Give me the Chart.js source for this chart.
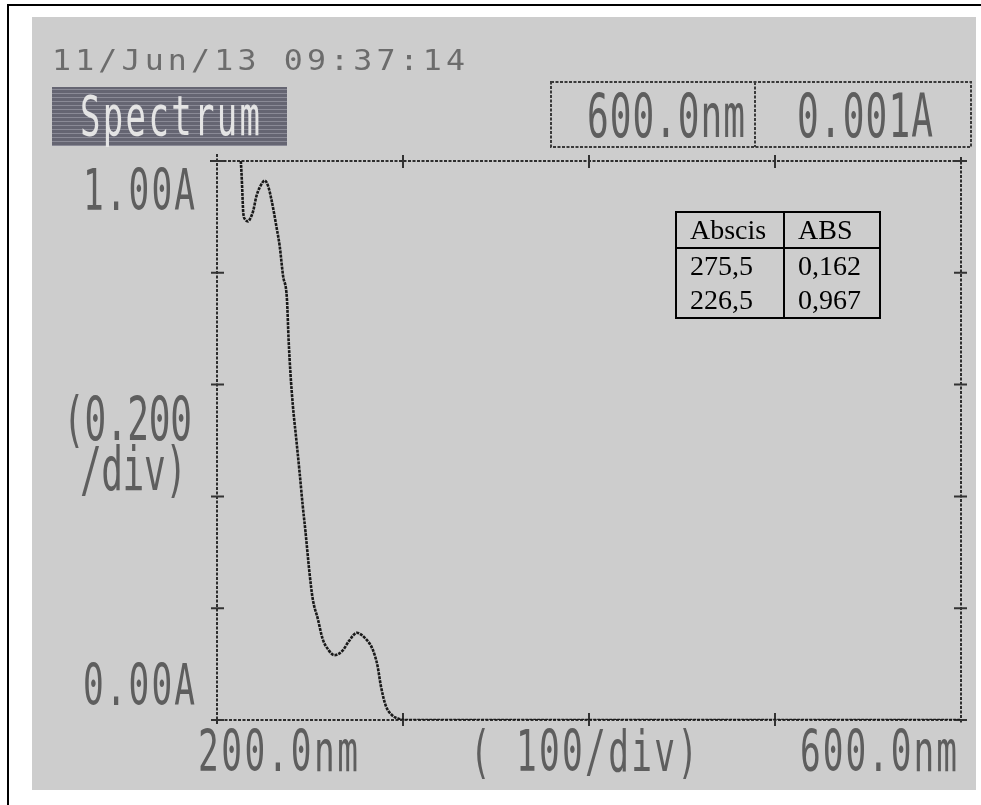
<!DOCTYPE html>
<html>
<head>
<meta charset="utf-8">
<script src="https://cdn.jsdelivr.net/npm/chart.js@4.4.1/dist/chart.umd.min.js"></script>
<style>
  html, body { margin: 0; padding: 0; background: #ffffff; }
  #wrap { position: relative; width: 981px; height: 805px; overflow: hidden; }
  #c { position: absolute; left: 0; top: 0; }
  #tbl {
    position: absolute; left: 675px; top: 211px;
    border-collapse: collapse;
    font-family: "Liberation Serif", "Times New Roman", serif;
    font-size: 28px; color: #000;
  }
  #tbl td {
    border: 2px solid #000; padding: 0 0 0 13px; vertical-align: top;
    line-height: 34px; box-sizing: border-box;
  }
  #tbl td.c1 { width: 108px; }
  #tbl td.c2 { width: 96px; }
  #tbl tr.h td { height: 35px; }
  #tbl tr.b td { height: 69px; }
</style>
</head>
<body>
<div id="wrap">
  <canvas id="c" width="981" height="805"></canvas>
  <table id="tbl">
    <tr class="h"><td class="c1">Abscis</td><td class="c2">ABS</td></tr>
    <tr class="b"><td class="c1">275,5<br>226,5</td><td class="c2">0,162<br>0,967</td></tr>
  </table>
</div>
<script>
// ---- data ----
const wavelengths = [212.8, 213.2, 213.7, 214.1, 215.2, 216.7, 218.0, 219.4, 221.2, 223.0,
  225.7, 227.5, 229.2, 232.2, 233.7, 235.5, 237.6, 238.5, 239.5, 240.8,
  242.6, 244.4, 246.1, 247.6, 249.7, 251.5, 254.2, 256.8, 260.0, 263.1,
  267.5, 271.1, 275.2, 280.0, 283.6, 286.3, 288.1, 290.7, 294.3, 297.9,
  301.0, 350, 400, 450, 500, 550, 600];
const absorbance = [1.000, 0.977, 0.938, 0.908, 0.895, 0.892, 0.898, 0.910, 0.937, 0.953,
  0.965, 0.955, 0.932, 0.878, 0.848, 0.795, 0.753, 0.680, 0.620, 0.562,
  0.503, 0.443, 0.383, 0.336, 0.264, 0.216, 0.181, 0.145, 0.125, 0.116,
  0.124, 0.142, 0.156, 0.145, 0.127, 0.097, 0.061, 0.026, 0.008, 0.002,
  0.000, 0.000, 0.000, 0.000, 0.000, 0.000, 0.000];
const xTicks = [200, 300, 400, 500, 600];
const yTicks = [0, 0.2, 0.4, 0.6, 0.8, 1.0];
const dateText = "11/Jun/13 09:37:14";
const titleText = "Spectrum";
const yTopLabel = "1.00A";
const yBottomLabel = "0.00A";
const yDivLabel = ["(0.200", "/div)"];
const xLeftLabel = "200.0nm";
const xDivLabel = "( 100/div)";
const xRightLabel = "600.0nm";
const cursorWl = "600.0nm";
const cursorAbs = "0.001A";

// dot-matrix style text helper
function dmText(ctx, text, x, base, capH, width, hs, color) {
  const size = capH / 0.73;
  ctx.save();
  ctx.font = size + 'px "DejaVu Sans Mono", monospace';
  ctx.fillStyle = color;
  ctx.textBaseline = 'alphabetic';
  ctx.textAlign = 'left';
  if ('letterSpacing' in ctx) ctx.letterSpacing = '0px';
  const nat = ctx.measureText(text).width * hs;
  let scale = hs;
  if ('letterSpacing' in ctx && text.length > 1) {
    const ls = (width - nat) / (text.length - 1) / hs;
    ctx.letterSpacing = ls + 'px';
  } else {
    scale = width / (nat / hs);
  }
  ctx.translate(x, base);
  ctx.scale(scale, 1);
  ctx.fillText(text, 0, 0);
  ctx.restore();
}

const framePlugin = {
  id: 'frame',
  beforeDraw(chart) {
    const ctx = chart.ctx;
    ctx.save();
    ctx.fillStyle = '#ffffff';
    ctx.fillRect(0, 0, 981, 805);
    // outer scan border
    ctx.strokeStyle = '#000';
    ctx.lineWidth = 2;
    ctx.beginPath();
    ctx.moveTo(8, 805); ctx.lineTo(8, 5); ctx.lineTo(981, 5);
    ctx.stroke();
    // grey paper
    ctx.fillStyle = '#cdcdcd';
    ctx.fillRect(32, 17, 944, 773);
    // Spectrum block
    ctx.fillStyle = '#656572';
    ctx.fillRect(52, 87, 235, 59);
    ctx.strokeStyle = 'rgba(175,175,185,0.5)';
    ctx.lineWidth = 1;
    for (let y = 89; y < 146; y += 4) {
      ctx.beginPath(); ctx.moveTo(52, y + 0.5); ctx.lineTo(287, y + 0.5); ctx.stroke();
    }
    // cursor box
    ctx.strokeStyle = '#3a3a3a';
    ctx.lineWidth = 2;
    ctx.setLineDash([3, 1.5]);
    ctx.strokeRect(551, 82, 420, 65);
    ctx.beginPath(); ctx.moveTo(755, 82); ctx.lineTo(755, 147); ctx.stroke();
    ctx.setLineDash([]);
    ctx.restore();
  },
  beforeDatasetsDraw(chart) {
    const ctx = chart.ctx;
    const xs = chart.scales.x, ys = chart.scales.y;
    const L = xs.getPixelForValue(200), R = xs.getPixelForValue(600);
    const T = ys.getPixelForValue(1), B = ys.getPixelForValue(0);
    ctx.save();
    ctx.strokeStyle = '#2e2e2e';
    ctx.lineWidth = 2;
    ctx.setLineDash([3, 1.5]);
    ctx.beginPath();
    ctx.moveTo(L, T - 7); ctx.lineTo(L, B + 4);
    ctx.moveTo(L - 7, T); ctx.lineTo(R + 4, T);
    ctx.moveTo(R, T - 4); ctx.lineTo(R, B + 4);
    ctx.moveTo(L - 6, B); ctx.lineTo(R + 6, B);
    ctx.stroke();
    ctx.setLineDash([]);
    ctx.lineWidth = 2;
    ctx.strokeStyle = '#333';
    ctx.beginPath();
    yTicks.forEach(v => {
      const y = ys.getPixelForValue(v);
      ctx.moveTo(L - 6, y); ctx.lineTo(L + 7, y);
      ctx.moveTo(R - 7, y); ctx.lineTo(R + 6, y);
    });
    xTicks.slice(1, -1).forEach(v => {
      const x = xs.getPixelForValue(v);
      ctx.moveTo(x, T - 6); ctx.lineTo(x, T + 7);
      ctx.moveTo(x, B - 7); ctx.lineTo(x, B + 6);
    });
    ctx.stroke();
    ctx.restore();
  },
  afterDraw(chart) {
    const ctx = chart.ctx;
    dmText(ctx, dateText, 52, 70, 21, 413, 1.1, '#6c6c6c');
    dmText(ctx, titleText, 80, 135, 40, 180, 0.62, '#e4e4e4');
    const c = '#5e5e5e';
    dmText(ctx, yTopLabel, 83, 210, 42, 112, 0.6, c);
    dmText(ctx, yDivLabel[0], 63, 440, 44, 129, 0.6, c);
    dmText(ctx, yDivLabel[1], 80, 490, 44, 107, 0.6, c);
    dmText(ctx, yBottomLabel, 83, 705, 42, 112, 0.6, c);
    dmText(ctx, xLeftLabel, 198, 771, 42, 160, 0.6, c);
    dmText(ctx, xDivLabel, 470, 771, 42, 228, 0.6, c);
    dmText(ctx, xRightLabel, 800, 771, 42, 157, 0.6, c);
    dmText(ctx, cursorWl, 587, 137, 44, 158, 0.6, c);
    dmText(ctx, cursorAbs, 797, 137, 44, 136, 0.6, c);
  }
};

new Chart(document.getElementById('c'), {
  type: 'scatter',
  data: {
    datasets: [{
      data: wavelengths.map((w, i) => ({ x: w, y: absorbance[i] })),
      showLine: true,
      borderColor: '#1a1a1a',
      borderWidth: 2.6,
      borderDash: [3, 1],
      pointRadius: 0,
      cubicInterpolationMode: 'monotone',
      fill: false
    }]
  },
  options: {
    responsive: false,
    devicePixelRatio: 1,
    animation: false,
    layout: { padding: { left: 217, right: 20, top: 161, bottom: 85 } },
    scales: {
      x: { type: 'linear', min: 200, max: 600, display: false },
      y: { type: 'linear', min: 0, max: 1, display: false }
    },
    plugins: { legend: { display: false }, tooltip: { enabled: false } }
  },
  plugins: [framePlugin]
});
</script>
</body>
</html>
